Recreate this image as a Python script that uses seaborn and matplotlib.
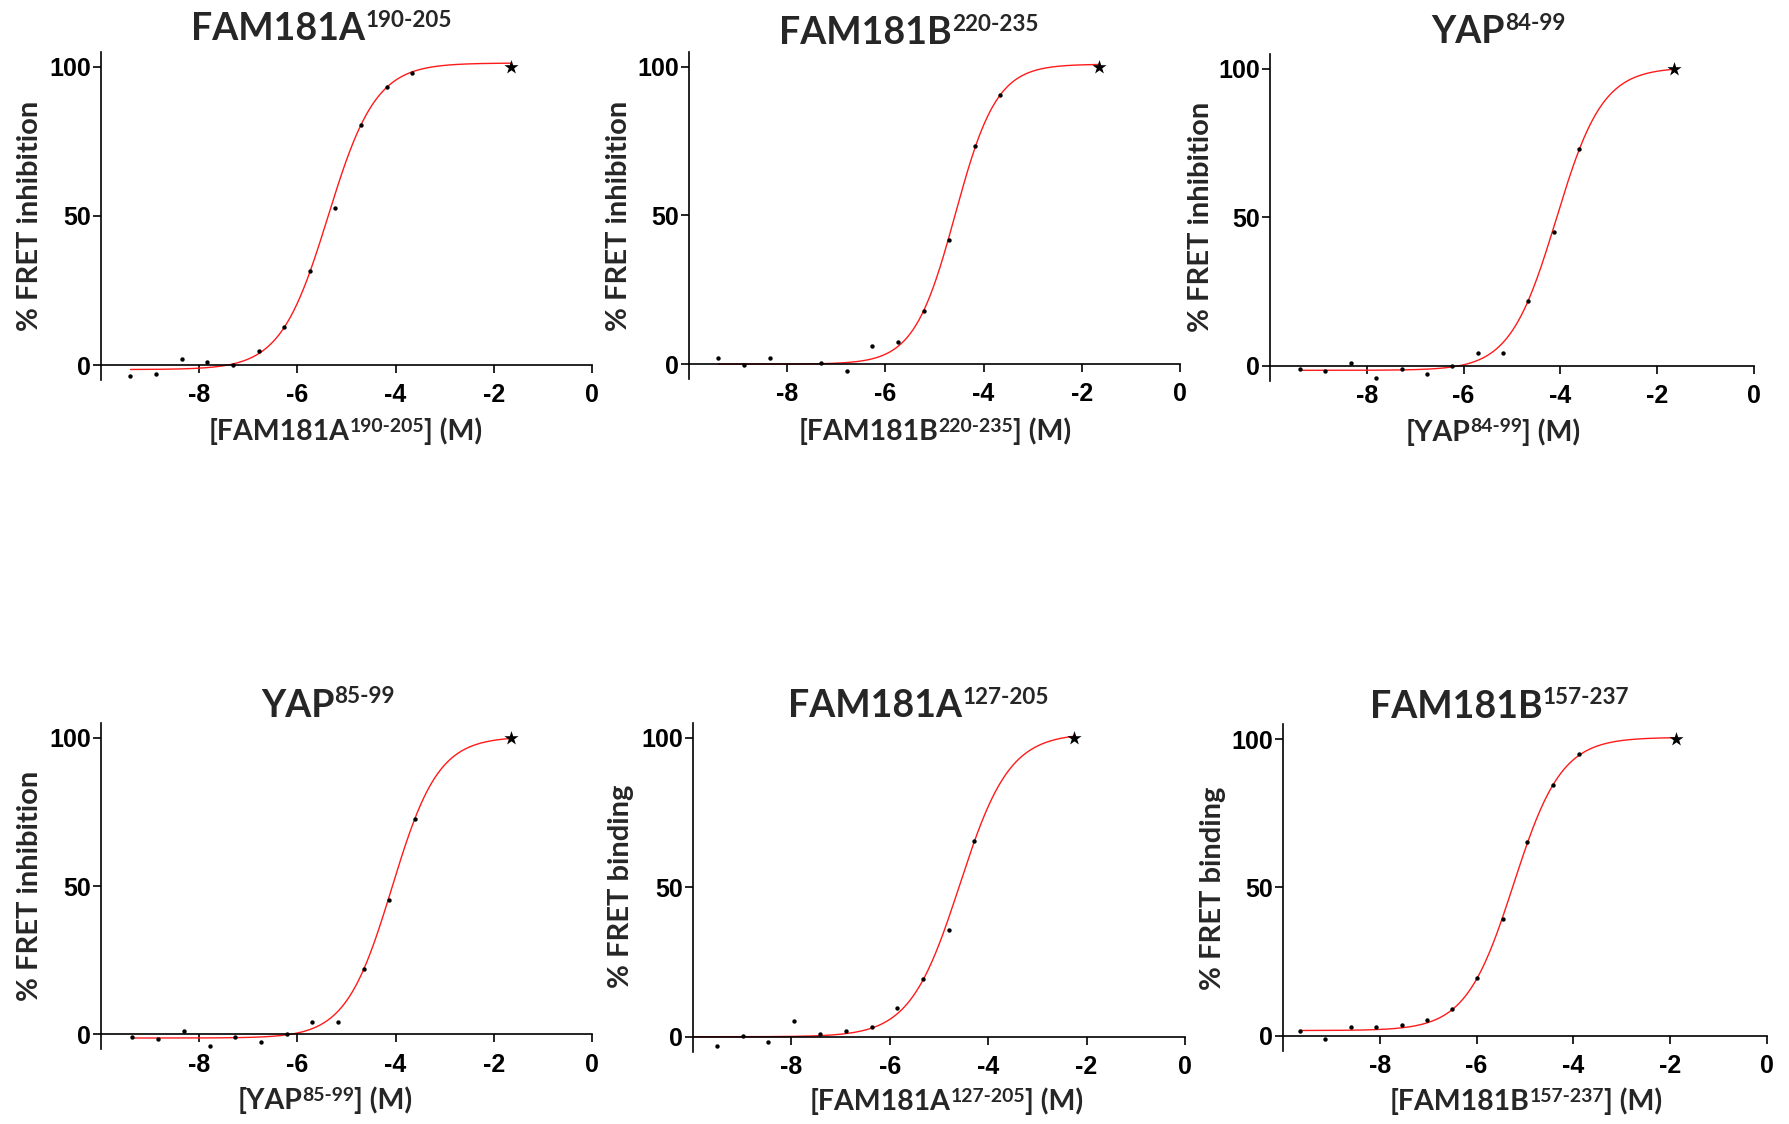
import numpy as np
import pandas as pd
import matplotlib
matplotlib.use("Agg")
import matplotlib.pyplot as plt
from matplotlib.transforms import IdentityTransform
import seaborn as sns

W, H = 1789, 1124

# ---------------- data (log10 [peptide] (M), % signal) ----------------
p1_title = ("FAM181A", "190-205")
p1_ylabel = "% FRET inhibition"
p1_x = [-9.40, -8.89, -8.36, -7.84, -7.32, -6.79, -6.27, -5.75, -5.23, -4.70, -4.18, -3.66]
p1_y = [-3.5, -2.9, 1.9, 1.1, -0.1, 4.7, 12.6, 31.4, 52.6, 80.5, 93.1, 98.0]
p1_star = [-1.65, 100.0]

p2_title = ("FAM181B", "220-235")
p2_ylabel = "% FRET inhibition"
p2_x = [-9.40, -8.88, -8.36, -7.31, -6.78, -6.27, -5.75, -5.22, -4.70, -4.18, -3.66]
p2_y = [1.9, -0.3, 2.0, 0.3, -2.2, 6.2, 7.4, 18.0, 41.7, 73.3, 90.5]
p2_star = [-1.65, 100.0]

p3_title = ("YAP", "84-99")
p3_ylabel = "% FRET inhibition"
p3_x = [-9.37, -8.86, -8.32, -7.80, -7.28, -6.76, -6.23, -5.71, -5.18, -4.67, -4.14, -3.61]
p3_y = [-1.1, -1.6, 1.0, -4.2, -1.0, -2.6, 0.0, 4.2, 4.2, 21.8, 45.2, 72.9]
p3_star = [-1.66, 100.0]

p4_title = ("YAP", "85-99")
p4_ylabel = "% FRET inhibition"
p4_x = [-9.36, -8.83, -8.31, -7.79, -7.27, -6.74, -6.22, -5.70, -5.17, -4.65, -4.13, -3.61]
p4_y = [-1.0, -1.5, 1.2, -4.0, -0.9, -2.5, 0.1, 4.3, 4.3, 21.9, 45.2, 72.6]
p4_star = [-1.65, 100.0]

p5_title = ("FAM181A", "127-205")
p5_ylabel = "% FRET binding"
p5_x = [-9.52, -8.99, -8.47, -7.94, -7.42, -6.89, -6.37, -5.85, -5.32, -4.80, -4.28]
p5_y = [-3.1, 0.3, -1.6, 5.1, 0.8, 1.9, 3.2, 9.5, 19.2, 35.6, 65.5]
p5_star = [-2.26, 100.0]

p6_title = ("FAM181B", "157-237")
p6_ylabel = "% FRET binding"
p6_x = [-9.64, -9.13, -8.59, -8.07, -7.55, -7.03, -6.51, -5.99, -5.46, -4.95, -4.42, -3.89]
p6_y = [1.5, -1.0, 2.9, 3.0, 3.8, 5.3, 9.2, 19.4, 39.3, 65.5, 84.6, 95.0]
p6_star = [-1.89, 100.0]

# four-parameter logistic fits (bottom, top, logEC50, Hill slope) and fitted x-range
fit_bottom = [-1.5, 0.0, -1.5, -1.2, 0.0, 1.8]
fit_top = [101.2, 100.8, 100.5, 100.3, 101.5, 100.6]
fit_logec50 = [-5.375, -4.576, -4.085, -4.073, -4.58, -5.234]
fit_hill = [0.892, 1.03, 0.905, 0.919, 0.857, 0.878]
fit_start = [-9.40, -9.40, -9.37, -9.36, -10.0, -9.64]

x_ticks = [-8, -6, -4, -2, 0]
y_ticks = [0, 50, 100]

# ---------------- layout (pixels in the 1789x1124 canvas) ----------------
axes_px = [  # left, right, top, bottom
    (101, 592, 51.7, 380.0),
    (689, 1180, 51.7, 379.0),
    (1270, 1754, 54.0, 380.7),
    (101, 592, 722.7, 1049.3),
    (693, 1185, 722.7, 1051.7),
    (1283, 1767, 724.3, 1050.7),
]
title_pos = [(321.7, 40.0), (908.6, 44.3), (1498.6, 43.3), (328, 716.7), (918.6, 717.3), (1499.6, 717.7)]
xlabel_pos = [(345.6, 440), (935, 440), (1493, 440.7), (325, 1109), (946.8, 1110), (1525.7, 1110)]
ylabel_pos = [(30.5, 215.8), (619, 215.8), (1201, 216.7), (30.5, 885.8), (620.5, 886.7), (1212.5, 888.3)]

panels = [
    (p1_title, p1_ylabel, p1_x, p1_y, p1_star),
    (p2_title, p2_ylabel, p2_x, p2_y, p2_star),
    (p3_title, p3_ylabel, p3_x, p3_y, p3_star),
    (p4_title, p4_ylabel, p4_x, p4_y, p4_star),
    (p5_title, p5_ylabel, p5_x, p5_y, p5_star),
    (p6_title, p6_ylabel, p6_x, p6_y, p6_star),
]

sns.set_style("ticks")
plt.rcParams["font.family"] = ["Liberation Sans", "DejaVu Sans"]
plt.rcParams["font.weight"] = "bold"
plt.rcParams["axes.unicode_minus"] = False

LABEL_FONT = ["Lato", "DejaVu Sans"]

fig = plt.figure(figsize=(W / 100, H / 100), dpi=100)
fig.patch.set_facecolor("white")
renderer = fig.canvas.get_renderer()


def seg_text(segs, cx, base_y, size, sup_scale, sup_rise):
    arts = []
    for s, sup in segs:
        fs = size * sup_scale if sup else size
        t = fig.text(0, 0, s, fontsize=fs, fontweight="bold", family=LABEL_FONT,
                     transform=IdentityTransform(), ha="left", va="baseline")
        arts.append((t, sup))
    widths = [t.get_window_extent(renderer).width for t, _ in arts]
    x = cx - sum(widths) / 2
    for (t, sup), w in zip(arts, widths):
        rise = size * 100 / 72 * sup_rise if sup else 0
        t.set_position((x, H - base_y + rise))
        x += w


for i, (title, ylabel, xs, ys, star) in enumerate(panels):
    l, r, t, b = axes_px[i]
    ax = fig.add_axes([l / W, 1 - b / H, (r - l) / W, (b - t) / H])
    ax.set_facecolor("white")

    # fitted curve
    cx = np.linspace(fit_start[i], star[0], 400)
    cy = fit_bottom[i] + (fit_top[i] - fit_bottom[i]) / (1 + 10 ** ((fit_logec50[i] - cx) * fit_hill[i]))
    curve = pd.DataFrame({"x": cx, "y": cy})
    sns.lineplot(data=curve, x="x", y="y", ax=ax, color="#ff1a1a", linewidth=1.0, sort=False)

    pts = pd.DataFrame({"x": xs, "y": ys})
    sns.scatterplot(data=pts, x="x", y="y", ax=ax, color="black", s=10, linewidth=0, zorder=3)
    sns.scatterplot(x=[star[0]], y=[star[1]], ax=ax, color="black", marker="*", s=115,
                    linewidth=0, zorder=4)

    ax.set_xlim(-10, 0)
    ax.set_ylim(-5, 105)
    ax.set_xticks(x_ticks)
    ax.set_yticks(y_ticks)
    ax.set_xticklabels([str(v) for v in x_ticks])
    ax.set_yticklabels([str(v) for v in y_ticks])
    ax.set_xlabel("")
    ax.set_ylabel("")
    sns.despine(ax=ax)
    ax.spines["bottom"].set_position(("data", 0))
    for sp in ("left", "bottom"):
        ax.spines[sp].set_linewidth(1.2)
        ax.spines[sp].set_color("black")
    ax.tick_params(axis="both", which="major", length=6.0, width=1.2, color="black",
                   labelsize=18, labelcolor="black")
    ax.tick_params(axis="x", pad=7)
    ax.tick_params(axis="y", pad=1.2)
    for lab in ax.get_xticklabels() + ax.get_yticklabels():
        lab.set_fontweight("bold")

    # title and axis labels
    tx, ty = title_pos[i]
    seg_text([(title[0], False), (title[1], True)], tx, ty, 27, 0.6, 0.355)
    xx, xy = xlabel_pos[i]
    seg_text([("[" + title[0], False), (title[1], True), ("] (M)", False)], xx, xy, 20.5, 0.68, 0.29)
    yx, yy = ylabel_pos[i]
    fig.text(yx, H - yy, ylabel, rotation=90, ha="center", va="center", fontsize=21,
             fontweight="bold", family=LABEL_FONT, transform=IdentityTransform())

fig.savefig("out.png", dpi=100, facecolor="white")
